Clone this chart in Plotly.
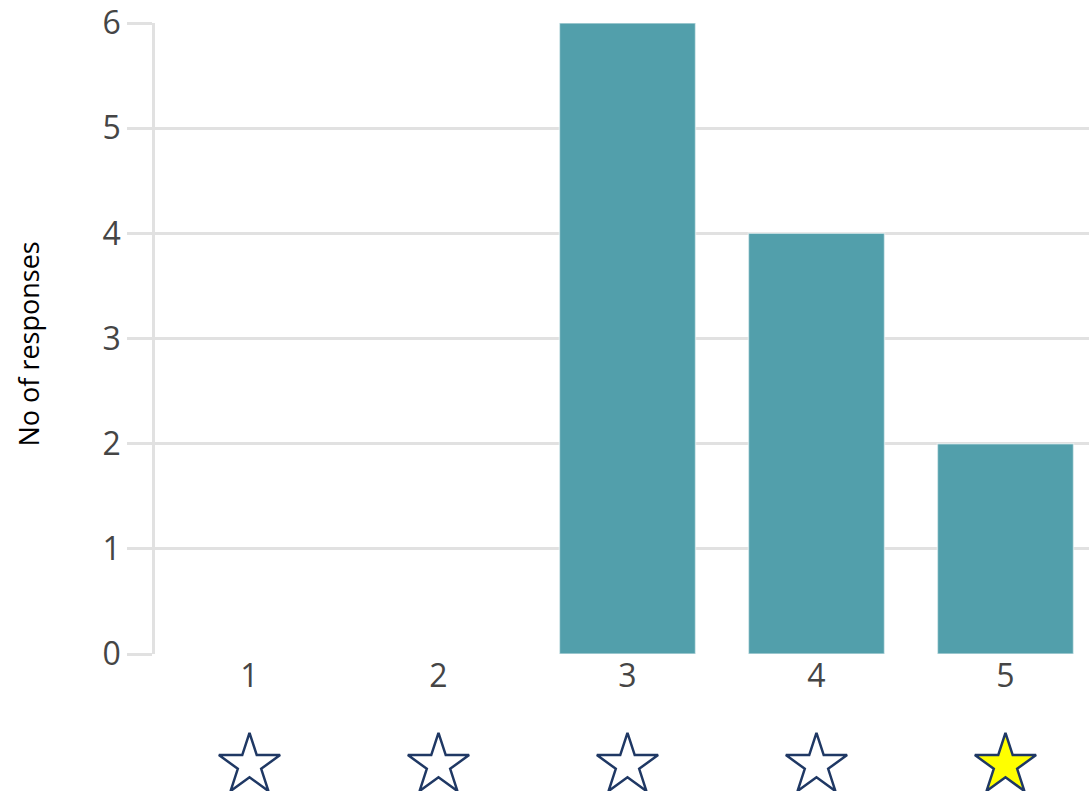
import plotly.graph_objects as go

categories = ["1", "2", "3", "4", "5"]
responses = [0, 0, 6, 4, 2]
star_fills = ["white", "white", "white", "white", "#FFFF00"]
y_ticks = [0, 1, 2, 3, 4, 5, 6]

GRID = "#e1e1e1"
FONT = "Open Sans, Noto Sans, sans-serif"
H = 791
TOP = 23
AXIS_BOTTOM = 654
split = (H - AXIS_BOTTOM) / (H - TOP)

fig = go.Figure()
fig.add_trace(go.Bar(
    x=categories, y=responses,
    marker=dict(color="#529FAB", line=dict(color="rgba(255,255,255,0.55)", width=1.5)),
    showlegend=False, hoverinfo="x+y",
))
fig.add_trace(go.Scatter(
    x=categories, y=[0.19] * len(categories), yaxis="y2",
    mode="markers", cliponaxis=False, showlegend=False, hoverinfo="skip",
    marker=dict(symbol="star", size=46, color=star_fills,
                line=dict(color="#1F3864", width=2.5)),
))

fig.update_layout(
    width=1089, height=H,
    margin=dict(l=155, r=0, t=TOP, b=0, autoexpand=False),
    paper_bgcolor="white", plot_bgcolor="white",
    font=dict(family=FONT, color="#454545"),
    bargap=0.28,
    xaxis=dict(
        type="category", range=[-0.5, 4.442], anchor="y",
        showgrid=False, zeroline=False, showline=False,
        ticks="", tickfont=dict(size=32, color="#454545"),
        fixedrange=True,
    ),
    yaxis=dict(
        domain=[split, 1],
        range=[0, 6], tickvals=y_ticks,
        showgrid=True, gridcolor=GRID, gridwidth=2.5,
        zeroline=False,
        showline=True, linecolor=GRID, linewidth=2.5,
        ticks="outside", ticklen=25, tickcolor=GRID, tickwidth=2.5,
        tickfont=dict(size=32, color="#454545"),
        fixedrange=True,
    ),
    yaxis2=dict(
        domain=[0, split], range=[0, 1], anchor="x",
        visible=False, fixedrange=True,
    ),
    annotations=[dict(
        text="No of responses", textangle=-90,
        xref="paper", yref="y domain", x=0, y=0.5,
        xanchor="center", yanchor="middle", xshift=-127, yshift=-6,
        showarrow=False, font=dict(size=27, color="black", family=FONT),
    )],
)

fig.write_html("out.html")
